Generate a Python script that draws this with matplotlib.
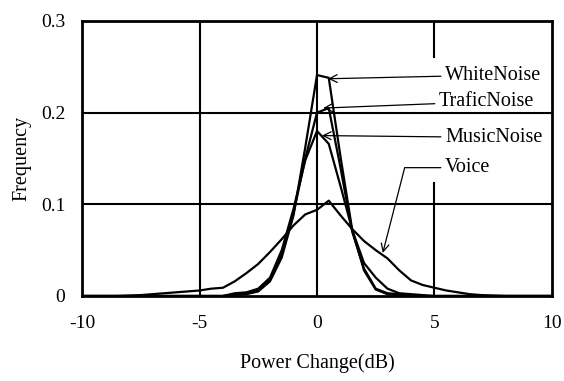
import numpy as np
import matplotlib
matplotlib.use("Agg")
import matplotlib.pyplot as plt

plt.rcParams["font.family"] = ["Liberation Serif", "DejaVu Serif"]

# power change axis (dB), 0.5 dB steps
power_db = np.arange(-10, 10.5, 0.5)

# values, one per 0.5 dB from -10 to 10
white_noise = [0, 0, 0, 0, 0, 0, 0, 0, 0, 0, 0, 0, 0,
               0.001, 0.002, 0.005, 0.016, 0.042, 0.088, 0.162, 0.241,
               0.238, 0.152, 0.072, 0.028, 0.007, 0.002, 0.001,
               0, 0, 0, 0, 0, 0, 0, 0, 0, 0, 0, 0, 0]
trafic_noise = [0, 0, 0, 0, 0, 0, 0, 0, 0, 0, 0, 0, 0,
                0.002, 0.003, 0.006, 0.018, 0.045, 0.090, 0.150, 0.200,
                0.205, 0.140, 0.070, 0.030, 0.008, 0.003, 0.002,
                0.001, 0, 0, 0, 0, 0, 0, 0, 0, 0, 0, 0, 0]
music_noise = [0, 0, 0, 0, 0, 0, 0, 0, 0, 0, 0, 0, 0,
               0.003, 0.004, 0.008, 0.020, 0.050, 0.095, 0.148, 0.180,
               0.166, 0.120, 0.072, 0.036, 0.020, 0.008, 0.003,
               0.002, 0.001, 0, 0, 0, 0, 0, 0, 0, 0, 0, 0, 0]
voice = [0, 0, 0, 0, 0.0005, 0.001, 0.002, 0.003, 0.004, 0.005, 0.006, 0.008, 0.009,
         0.016, 0.025, 0.035, 0.048, 0.062, 0.077, 0.089, 0.094,
         0.104, 0.088, 0.073, 0.060, 0.050, 0.041, 0.028, 0.017,
         0.012, 0.009, 0.006, 0.004, 0.002, 0.001, 0.0005, 0, 0, 0, 0, 0]

labels = ["WhiteNoise", "TraficNoise", "MusicNoise", "Voice"]
label_pos = [(5.45, 0.241), (5.19, 0.212), (5.45, 0.173), (5.45, 0.140)]
arrow_tip = [(0.47, 0.237), (0.26, 0.205), (0.21, 0.175), (2.8, 0.047)]

fig = plt.figure(figsize=(5.64, 3.81), dpi=100)
ax = fig.add_axes([0.1454, 0.2231, 0.8333, 0.7218])

# grid
for xv in [-5, 0]:
    ax.axvline(xv, color="black", lw=1.5, zorder=1)
ax.axvline(5, ymin=0, ymax=0.41, color="black", lw=1.5, zorder=1)
ax.axvline(5, ymin=0.87, ymax=1, color="black", lw=1.5, zorder=1)
for yv in [0.1, 0.2]:
    ax.axhline(yv, color="black", lw=1.5, zorder=1)

for series in [white_noise, trafic_noise, music_noise, voice]:
    ax.plot(power_db, series, color="black", lw=1.6, zorder=3)

for i, lab in enumerate(labels):
    if lab == "Voice":
        cs = "angle,angleA=0,angleB=75.6,rad=0"
    else:
        cs = "arc3"
    ax.annotate(lab, xy=arrow_tip[i], xytext=label_pos[i], fontsize=14.5,
                ha="left", va="center",
                arrowprops=dict(arrowstyle="->", color="black", lw=0.9,
                                mutation_scale=14, connectionstyle=cs,
                                shrinkA=1, shrinkB=0))

ax.set_xlim(-10, 10)
ax.set_ylim(0, 0.3)
ax.set_xticks([-10, -5, 0, 5, 10])
ax.set_xticklabels(["-10", "-5", "0", "5", "10"])
ax.set_yticks([0, 0.1, 0.2, 0.3])
ax.set_yticklabels(["0", "0.1", "0.2", "0.3"])
ax.tick_params(axis="both", length=0, labelsize=14)
ax.tick_params(axis="x", pad=14)
ax.tick_params(axis="y", pad=12)
for sp in ax.spines.values():
    sp.set_linewidth(2)

ax.set_xlabel("Power Change(dB)", fontsize=14.5, labelpad=15)
ax.set_ylabel("Frequency", fontsize=14.5, labelpad=7)

fig.savefig("out.png", dpi=100)
